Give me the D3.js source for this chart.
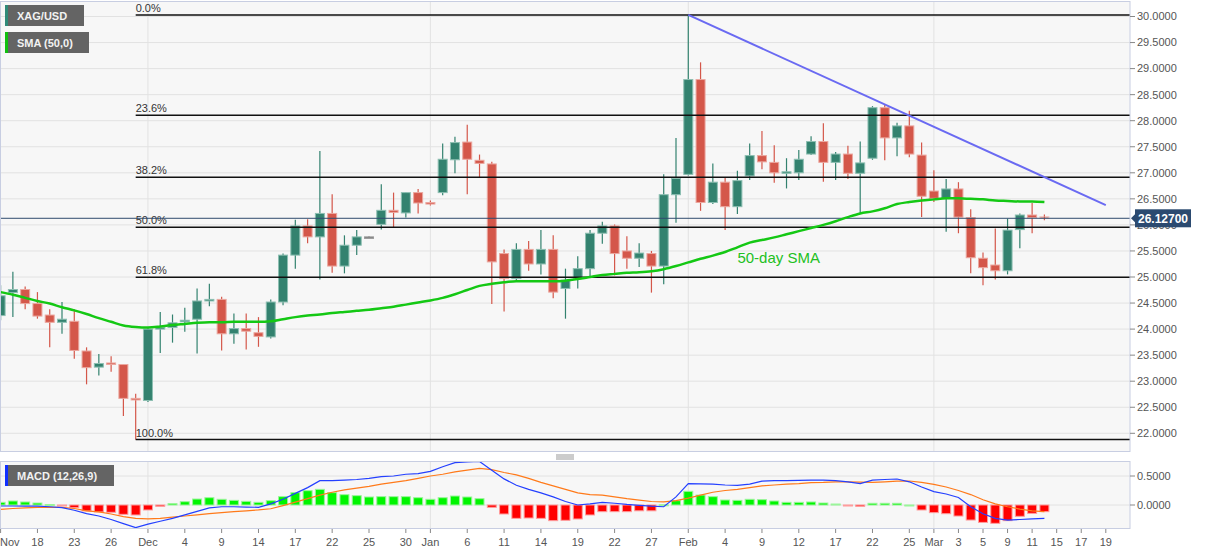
<!DOCTYPE html>
<html><head><meta charset="utf-8">
<script src="https://cdn.jsdelivr.net/npm/d3@7"></script>
<style>body{margin:0;background:#fff;} svg{display:block;font-family:"Liberation Sans",Arial,sans-serif;}</style>
</head><body><svg id="c" width="1207" height="555"></svg>
<script>
// ---------------- data ----------------
const firstDay = "2020-11-13", lastAxisDay = "2021-03-24";
const open  = [24.26,24.70,24.76,24.49,24.27,24.13,24.15,23.58,23.27,23.35,23.32,22.67,
  22.63,24.00,24.03,24.14,24.19,24.54,24.57,23.91,24.01,23.93,23.85,24.52,25.42,25.98,25.77,26.22,25.21,25.61,25.77,26.01,26.28,26.23,26.62,
  26.43,26.62,27.25,27.59,27.24,27.17,25.45,24.97,25.53,25.25,25.53,24.78,24.98,25.16,25.84,25.98,25.50,25.36,25.45,25.21,26.58,
  26.97,28.79,26.43,26.82,26.35,26.94,27.33,27.20,26.99,27.00,27.36,27.60,27.20,27.36,26.99,27.28,28.25,27.67,27.90,27.34,
  26.65,26.51,26.69,26.14,25.36,25.23,25.12,25.91,26.19,26.16];
const high  = [24.84,25.10,24.82,24.71,24.38,24.52,24.38,23.65,23.52,23.48,23.33,22.76,
  24.03,24.33,24.28,24.41,24.78,24.87,24.62,24.30,24.30,24.23,24.57,25.45,26.10,26.11,27.42,26.59,25.80,25.90,25.78,26.78,26.62,26.62,26.69,
  26.47,27.56,27.69,27.92,27.35,27.21,25.53,25.65,25.69,25.90,25.80,25.16,25.40,25.90,26.06,26.01,25.78,25.65,25.50,26.97,27.67,
  30.03,29.12,27.18,26.91,27.04,27.56,27.80,27.53,27.28,27.44,27.70,27.95,27.40,27.52,27.60,28.28,28.30,27.96,28.19,27.58,
  27.05,26.88,26.82,26.30,25.47,25.93,26.12,26.22,26.42,26.20];
const low   = [24.17,24.23,24.38,24.20,23.65,23.91,23.43,22.94,23.11,23.18,22.33,21.88,
  22.60,23.54,23.74,23.95,23.53,24.44,23.59,23.72,23.61,23.66,23.82,24.46,25.16,25.65,24.95,25.08,25.07,25.42,25.76,25.91,25.96,26.14,26.22,
  26.37,26.57,26.99,26.59,26.91,24.48,24.34,24.91,25.12,25.05,24.59,24.20,24.78,25.00,25.64,25.03,25.16,25.19,24.70,24.86,26.04,
  26.95,26.27,26.40,25.90,26.21,26.86,27.07,26.81,26.70,26.86,27.34,26.83,26.86,26.88,26.23,27.25,27.24,27.32,27.30,26.15,
  26.44,25.87,25.84,25.07,24.84,24.95,25.05,25.55,25.84,26.09];
const close = [24.64,24.76,24.49,24.25,24.13,24.19,23.59,23.26,23.34,23.33,22.67,22.64,
  24.00,24.03,24.12,24.17,24.54,24.57,23.91,24.01,23.96,23.86,24.52,25.42,25.98,25.77,26.22,25.21,25.61,25.77,25.77,26.28,26.24,26.62,26.42,
  26.40,27.26,27.58,27.26,27.18,25.29,24.97,25.53,25.25,25.53,24.71,24.94,25.16,25.84,25.98,25.45,25.36,25.46,25.21,26.58,26.89,
  28.79,26.43,26.82,26.35,26.85,27.33,27.21,27.00,27.02,27.26,27.60,27.20,27.36,26.99,27.19,28.25,27.67,27.90,27.36,26.55,
  26.51,26.69,26.15,25.37,25.18,25.12,25.90,26.19,26.14,26.127];
const sma50 = [24.71,24.66,24.60,24.54,24.49,24.42,24.36,24.29,24.21,24.14,24.07,24.04,
  24.03,24.05,24.08,24.10,24.12,24.13,24.13,24.14,24.14,24.14,24.15,24.19,24.23,24.26,24.28,24.31,24.33,24.35,24.37,24.40,24.43,24.47,24.51,
  24.55,24.60,24.67,24.75,24.83,24.87,24.90,24.92,24.92,24.92,24.92,24.93,24.96,25.00,25.04,25.06,25.08,25.09,25.11,25.15,25.21,
  25.28,25.35,25.41,25.48,25.57,25.66,25.71,25.76,25.82,25.88,25.94,26.00,26.07,26.15,26.22,26.26,26.32,26.40,26.44,26.47,
  26.49,26.51,26.51,26.50,26.49,26.47,26.46,26.45,26.45,26.44];
const macdLine = [-0.017,-0.017,-0.02,-0.02,-0.03,-0.045,-0.09,-0.15,-0.19,-0.25,-0.32,-0.39,
  -0.33,-0.28,-0.23,-0.17,-0.11,-0.05,-0.03,-0.03,-0.035,-0.04,0.02,0.10,0.20,0.30,0.42,0.42,0.43,0.44,0.46,0.49,0.50,0.53,0.54,
  0.58,0.66,0.73,0.745,0.75,0.60,0.45,0.34,0.27,0.21,0.14,0.06,0.0,0.02,0.046,0.03,0.01,-0.005,-0.02,-0.03,0.14,
  0.37,0.365,0.36,0.345,0.34,0.36,0.41,0.42,0.42,0.425,0.43,0.43,0.42,0.40,0.37,0.43,0.44,0.448,0.40,0.31,
  0.23,0.19,0.13,-0.03,-0.15,-0.23,-0.26,-0.25,-0.24,-0.23];
const signalLine = [-0.075,-0.06,-0.05,-0.04,-0.04,-0.04,-0.06,-0.10,-0.12,-0.155,-0.20,-0.23,
  -0.24,-0.23,-0.21,-0.19,-0.17,-0.15,-0.13,-0.115,-0.10,-0.085,-0.065,-0.01,0.05,0.11,0.17,0.22,0.26,0.29,0.32,0.36,0.39,0.42,0.46,
  0.50,0.53,0.57,0.60,0.63,0.61,0.56,0.52,0.46,0.39,0.33,0.27,0.21,0.18,0.17,0.14,0.11,0.085,0.06,0.055,0.075,
  0.12,0.17,0.22,0.25,0.27,0.30,0.33,0.345,0.36,0.37,0.385,0.39,0.40,0.40,0.395,0.39,0.40,0.41,0.414,0.39,
  0.356,0.31,0.25,0.18,0.09,0.02,-0.03,-0.07,-0.10,-0.115];
const histogram = [0.046,0.069,0.052,0.034,0.008,-0.006,-0.046,-0.103,-0.12,-0.126,-0.161,-0.172,
  -0.086,-0.023,0.023,0.057,0.103,0.126,0.098,0.08,0.063,0.046,0.075,0.144,0.213,0.247,0.27,0.213,0.178,0.161,0.138,0.144,0.144,0.144,0.126,
  0.098,0.126,0.155,0.138,0.109,-0.04,-0.155,-0.23,-0.224,-0.23,-0.27,-0.264,-0.241,-0.172,-0.115,-0.115,-0.115,-0.10,-0.10,0.003,0.075,
  0.236,0.172,0.144,0.086,0.08,0.098,0.092,0.069,0.046,0.046,0.052,0.034,0.017,-0.017,-0.023,0.029,0.029,0.029,0.0,-0.086,
  -0.132,-0.15,-0.19,-0.259,-0.30,-0.316,-0.27,-0.195,-0.144,-0.115];
const priceTicks = [22,22.5,23,23.5,24,24.5,25,25.5,26,26.5,27,27.5,28,28.5,29,29.5,30];
const macdTicks = [0, 0.5];
const tickDates = ["2020-11-13","2020-11-18","2020-11-23","2020-11-26","2020-12-01","2020-12-04","2020-12-09","2020-12-14",
  "2020-12-17","2020-12-22","2020-12-25","2020-12-30","2021-01-01","2021-01-06","2021-01-11","2021-01-14","2021-01-19",
  "2021-01-22","2021-01-27","2021-02-01","2021-02-04","2021-02-09","2021-02-12","2021-02-17","2021-02-22","2021-02-25",
  "2021-03-01","2021-03-03","2021-03-05","2021-03-09","2021-03-11","2021-03-15","2021-03-17","2021-03-19"];
const tickLabels = ["Nov","18","23","26","Dec","4","9","14","17","22","25","30","Jan","6","11","14","19",
  "22","27","Feb","4","9","12","17","22","25","Mar","3","5","9","11","15","17","19"];
const fibLevels = [0, 0.236, 0.382, 0.5, 0.618, 1];
const fibLabels = ["0.0%","23.6%","38.2%","50.0%","61.8%","100.0%"];
const fibHigh = 30.03, fibLow = 21.88, fibStartDate = "2020-11-30";
const trendDates = ["2021-02-01","2021-03-19"];
const trendPrices = [30.03, 26.38];
const lastPrice = 26.127;
const smaLabel = {date:"2021-02-05", price:25.27, text:"50-day SMA"};

// ---------------- setup ----------------
const fmt = d3.timeFormat("%Y-%m-%d"), parse = d3.timeParse("%Y-%m-%d");
const days = d3.timeDay.range(parse(firstDay), parse(lastAxisDay)).filter(d => d.getDay() !== 0 && d.getDay() !== 6);
const idx = new Map(days.map((d, i) => [fmt(d), i]));
const svg = d3.select("#c");
const plotR = 1130, mainT = 1, mainB = 452, macdT = 461, macdB = 529;
const x = d3.scaleLinear().domain([0, 92]).range([0.6, 0.6 + 92 * 12.28]);
const y = d3.scaleLinear().domain([22, 30]).range([433.3, 16.5]);
const ym = d3.scaleLinear().domain([0, 0.5]).range([505, 476]);
const N = open.length;
const candles = d3.range(N).map(i => ({i, o: open[i], h: high[i], l: low[i], c: close[i]}));

const defs = svg.append("defs");
defs.append("clipPath").attr("id", "clipMain").append("rect").attr("x", 0).attr("y", mainT).attr("width", plotR).attr("height", mainB - mainT);
defs.append("clipPath").attr("id", "clipMacd").append("rect").attr("x", 0).attr("y", macdT).attr("width", plotR).attr("height", macdB - macdT);

// backgrounds
svg.append("rect").attr("x", 0).attr("y", mainT).attr("width", plotR).attr("height", mainB - mainT).attr("fill", "#f7f7f7");
svg.append("rect").attr("x", 0).attr("y", macdT).attr("width", plotR).attr("height", macdB - macdT).attr("fill", "#f7f7f7");

const main = svg.append("g").attr("clip-path", "url(#clipMain)");
const macdG = svg.append("g").attr("clip-path", "url(#clipMacd)");

// grids
main.selectAll(".hg").data(priceTicks).join("line")
  .attr("x1", 0).attr("x2", plotR).attr("y1", d => y(d)).attr("y2", d => y(d))
  .attr("stroke", "#e2e2e2").attr("stroke-width", 1);
const monthStarts = days.filter((d, i) => i > 0 && d.getMonth() !== days[i - 1].getMonth()).map(d => idx.get(fmt(d)));
main.selectAll(".vg").data(monthStarts).join("line")
  .attr("x1", d => x(d)).attr("x2", d => x(d)).attr("y1", mainT).attr("y2", mainB)
  .attr("stroke", "#e2e2e2");
macdG.selectAll(".vg").data(monthStarts).join("line")
  .attr("x1", d => x(d)).attr("x2", d => x(d)).attr("y1", macdT).attr("y2", macdB)
  .attr("stroke", "#e2e2e2");
macdG.selectAll(".hg").data(macdTicks).join("line")
  .attr("x1", 0).attr("x2", plotR).attr("y1", d => ym(d)).attr("y2", d => ym(d))
  .attr("stroke", "#e2e2e2");

// candles
const upC = "#33826f", dnC = "#d4574a", flatC = "#777";
const col = d => d.c > d.o ? upC : (d.c < d.o ? dnC : flatC);
const edge = d => d.c > d.o ? "#8dbfb2" : (d.c < d.o ? "#eba79f" : "#999");
const cg = main.append("g");
cg.selectAll(".wick").data(candles).join("line")
  .attr("x1", d => x(d.i)).attr("x2", d => x(d.i)).attr("y1", d => y(d.h)).attr("y2", d => y(d.l))
  .attr("stroke", col).attr("stroke-width", 1.2);
cg.selectAll(".body").data(candles).join("rect")
  .attr("x", d => x(d.i) - 4.5).attr("width", 9)
  .attr("y", d => y(Math.max(d.o, d.c)))
  .attr("height", d => Math.max(1.5, Math.abs(y(d.o) - y(d.c))))
  .attr("fill", col).attr("stroke", edge).attr("stroke-width", 1)
  .attr("opacity", d => d.i === N - 1 ? 0.55 : 1);

// fib lines
const fibStart = idx.get(fibStartDate);
const fibs = fibLevels.map((l, k) => ({p: fibHigh - l * (fibHigh - fibLow), t: fibLabels[k]}));
main.selectAll(".fib").data(fibs).join("line")
  .attr("x1", x(fibStart)).attr("x2", plotR).attr("y1", d => y(d.p)).attr("y2", d => y(d.p))
  .attr("stroke", "#111").attr("stroke-width", 1.5);
main.selectAll(".fibt").data(fibs).join("text")
  .attr("x", x(fibStart)).attr("y", d => y(d.p) - 3)
  .attr("font-size", 11).attr("fill", "#333").text(d => d.t);

// current price line
main.append("line").attr("x1", 0).attr("x2", plotR).attr("y1", y(lastPrice)).attr("y2", y(lastPrice))
  .attr("stroke", "#2e4a6d").attr("stroke-width", 1);

// SMA
main.append("path").datum(sma50)
  .attr("d", d3.line().x((d, i) => x(i)).y(d => y(d)).curve(d3.curveMonotoneX))
  .attr("fill", "none").attr("stroke", "#14c814").attr("stroke-width", 2.5);
main.append("text").attr("x", x(idx.get(smaLabel.date))).attr("y", y(smaLabel.price))
  .attr("font-size", 15).attr("fill", "#22c022").text(smaLabel.text);

// trend line
main.append("line")
  .attr("x1", x(idx.get(trendDates[0]))).attr("y1", y(trendPrices[0]))
  .attr("x2", x(idx.get(trendDates[1]))).attr("y2", y(trendPrices[1]))
  .attr("stroke", "#6a6af2").attr("stroke-width", 2);

// MACD
macdG.selectAll(".hb").data(histogram.map((v, i) => ({v, i}))).join("rect")
  .attr("x", d => x(d.i) - 4.5).attr("width", 9)
  .attr("y", d => Math.min(ym(0), ym(d.v))).attr("height", d => Math.max(1, Math.abs(ym(d.v) - ym(0))))
  .attr("fill", d => d.v >= 0 ? "#00f500" : "#ff0000")
  .attr("stroke", d => d.v >= 0 ? "#9af59a" : "#ff9c9c").attr("stroke-width", 1);
macdG.append("path").datum(signalLine)
  .attr("d", d3.line().x((d, i) => x(i)).y(d => ym(d)))
  .attr("fill", "none").attr("stroke", "#ff7a1a").attr("stroke-width", 1.2);
macdG.append("path").datum(macdLine)
  .attr("d", d3.line().x((d, i) => x(i)).y(d => ym(d)))
  .attr("fill", "none").attr("stroke", "#2440ff").attr("stroke-width", 1.2);

// frames
const frame = "#c8cee2";
[[mainT, mainB], [macdT, macdB]].forEach(([t, b]) => {
  svg.append("rect").attr("x", 0.5).attr("y", t + 0.5).attr("width", plotR - 0.5).attr("height", b - t - 1)
    .attr("fill", "none").attr("stroke", frame);
});

// right axes
const ra = svg.append("g");
ra.selectAll(".pt").data(priceTicks).join("line")
  .attr("x1", plotR).attr("x2", plotR + 5).attr("y1", d => y(d)).attr("y2", d => y(d)).attr("stroke", "#888");
ra.selectAll(".pl").data(priceTicks).join("text")
  .attr("x", plotR + 7).attr("y", d => y(d)).attr("dy", "0.35em")
  .attr("font-size", 11).attr("fill", "#555").text(d => d.toFixed(4));
ra.selectAll(".mt").data(macdTicks).join("line")
  .attr("x1", plotR).attr("x2", plotR + 5).attr("y1", d => ym(d)).attr("y2", d => ym(d)).attr("stroke", "#888");
ra.selectAll(".ml").data(macdTicks).join("text")
  .attr("x", plotR + 7).attr("y", d => ym(d)).attr("dy", "0.35em")
  .attr("font-size", 11).attr("fill", "#555").text(d => d.toFixed(4));

// last price badge
const yl = y(lastPrice);
svg.append("path").attr("d", `M${plotR + 1},${yl} L${plotR + 6},${yl - 5} L${plotR + 6},${yl + 5} Z`).attr("fill", "#2b4a70");
svg.append("rect").attr("x", plotR + 5).attr("y", yl - 9).attr("width", 56).attr("height", 18).attr("fill", "#2b4a70");
svg.append("text").attr("x", plotR + 33).attr("y", yl).attr("dy", "0.36em").attr("text-anchor", "middle")
  .attr("font-size", 12).attr("font-weight", "bold").attr("fill", "#fff").text(lastPrice.toFixed(5));

// bottom axis
const xa = svg.append("g");
const ticks = tickDates.map((d, k) => ({xi: idx.get(d), t: tickLabels[k], k}));
xa.selectAll("line").data(ticks).join("line")
  .attr("x1", d => x(d.xi)).attr("x2", d => x(d.xi)).attr("y1", macdB).attr("y2", macdB + 4).attr("stroke", "#888");
xa.selectAll("text").data(ticks).join("text")
  .attr("x", d => d.k === 0 ? 0 : x(d.xi)).attr("y", 546)
  .attr("text-anchor", d => d.k === 0 ? "start" : "middle")
  .attr("font-size", 11).attr("fill", "#555").text(d => d.t);

// separator handle
[0, 2, 4].forEach(o => svg.append("line").attr("x1", 556).attr("x2", 574).attr("y1", 455 + o).attr("y2", 455 + o).attr("stroke", "#999"));

// legend boxes
function legend(yTop, w, color, label) {
  svg.append("rect").attr("x", 5).attr("y", yTop).attr("width", w).attr("height", 21).attr("fill", "#646464");
  svg.append("rect").attr("x", 5).attr("y", yTop).attr("width", 3).attr("height", 21).attr("fill", color);
  svg.append("text").attr("x", 17).attr("y", yTop + 14.5).attr("font-size", 11).attr("font-weight", "bold")
    .attr("fill", "#f2f2f2").text(label);
}
legend(5, 79, "#2f8a78", "XAG/USD");
legend(32, 84, "#10c010", "SMA (50,0)");
legend(465, 109, "#1030ff", "MACD (12,26,9)");
</script></body></html>
